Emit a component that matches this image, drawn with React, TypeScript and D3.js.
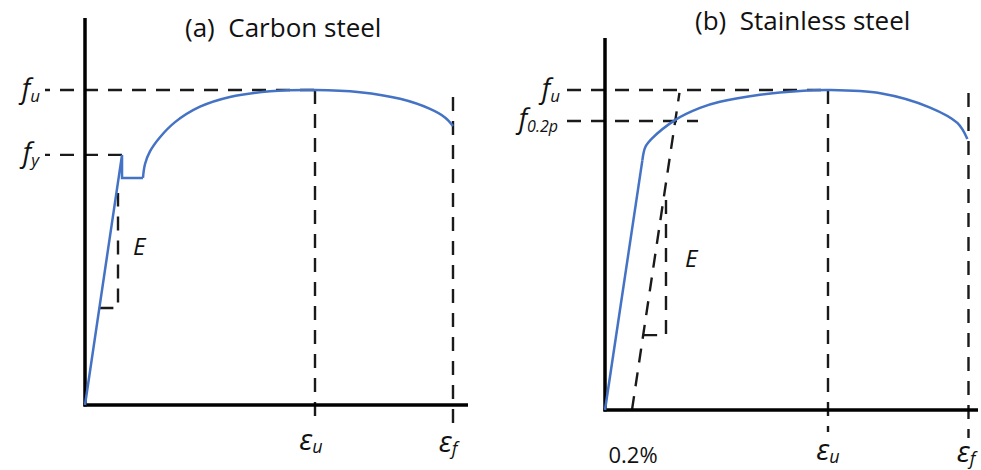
import React from "react";
import * as d3 from "d3";

// Schematic stress–strain data (strain, stress) – normalised so that εu = 0.2 and fu = 1
const carbonElastic: [number, number][] = [
  [0, 0],
  [0.0322, 0.794],
  [0.0322, 0.721],
  [0.0504, 0.721],
];
const carbonHardening: [number, number][] = [
  [0.0504, 0.721],
  [0.0522, 0.765],
  [0.0565, 0.805],
  [0.0652, 0.85],
  [0.0783, 0.898],
  [0.1, 0.947],
  [0.126, 0.978],
  [0.161, 0.996],
  [0.2, 1.0],
  [0.239, 0.993],
  [0.274, 0.972],
  [0.3, 0.94],
  [0.313, 0.913],
  [0.32, 0.886],
];
const carbonKeyStress = { fu: 1.0, fy: 0.794 };
const carbonKeyStrain = { eu: 0.2, ef: 0.32 };
const carbonSlopeTriangle: [number, number][] = [
  [0.0125, 0.308],
  [0.0287, 0.308],
  [0.0287, 0.673],
];

const stainlessElastic: [number, number][] = [
  [0, 0],
  [0.0335, 0.78],
];
const stainlessPlastic: [number, number][] = [
  [0.0335, 0.78],
  [0.0362, 0.822],
  [0.042, 0.848],
  [0.0628, 0.906],
  [0.0852, 0.944],
  [0.1031, 0.963],
  [0.139, 0.985],
  [0.175, 0.997],
  [0.2, 1.0],
  [0.247, 0.99],
  [0.291, 0.946],
  [0.316, 0.897],
  [0.325, 0.847],
];
const stainlessKeyStress = { fu: 1.0, f02p: 0.903 };
const stainlessKeyStrain = { eu: 0.2, ef: 0.326 };
const offsetStrain = 0.0242; // proof-strain offset (schematic)
const offsetLineTopStress = 0.991;
const stainlessSlopeTriangle: [number, number][] = [
  [0.0342, 0.234],
  [0.0547, 0.234],
  [0.0547, 0.672],
];

const titles = ["(a)  Carbon steel", "(b)  Stainless steel"];

const BLUE = "#4472C4";
const DASH_COLOR = "#1a1a1a";
const FONT = "'Open Sans', 'DejaVu Sans', sans-serif";
const DASH = "14,10";

const lineGen = (x: d3.ScaleLinear<number, number>, y: d3.ScaleLinear<number, number>, curve: d3.CurveFactory) =>
  d3
    .line<[number, number]>()
    .x((d) => x(d[0]))
    .y((d) => y(d[1]))
    .curve(curve);

function FLabel({ x, y, sub, subSize = 17 }: { x: number; y: number; sub: string; subSize?: number }) {
  return (
    <text x={x} y={y} textAnchor="end" fontFamily={FONT} fontStyle="italic" fontSize={27} fill="#111">
      f
      <tspan fontSize={subSize} dy={4}>
        {sub}
      </tspan>
    </text>
  );
}

function EpsLabel({ x, y, sub }: { x: number; y: number; sub: string }) {
  return (
    <text x={x} y={y} textAnchor="middle" fontFamily={FONT} fontStyle="italic" fontSize={29} fill="#111">
      ε
      <tspan fontSize={18} dy={3}>
        {sub}
      </tspan>
    </text>
  );
}

export default function App() {
  // Carbon steel panel scales
  const xA = d3.scaleLinear().domain([0, 0.2]).range([85, 315]);
  const yA = d3.scaleLinear().domain([0, 1]).range([405, 90]);
  // Stainless steel panel scales
  const xB = d3.scaleLinear().domain([0, 0.2]).range([605, 828]);
  const yB = d3.scaleLinear().domain([0, 1]).range([410, 90]);

  const smooth = d3.curveCatmullRom.alpha(0.5);
  const linA = lineGen(xA, yA, d3.curveLinear);
  const curA = lineGen(xA, yA, smooth);
  const linB = lineGen(xB, yB, d3.curveLinear);
  const curB = lineGen(xB, yB, smooth);

  const elasticSlopeB = stainlessElastic[1][1] / stainlessElastic[1][0];
  const offsetLine: [number, number][] = [
    [offsetStrain, 0],
    [offsetStrain + offsetLineTopStress / elasticSlopeB, offsetLineTopStress],
  ];

  const dashProps = {
    stroke: DASH_COLOR,
    strokeWidth: 2.4,
    strokeDasharray: DASH,
    fill: "none",
  };

  return (
    <svg width={981} height={470} style={{ display: "block", position: "absolute", left: 0, top: 0 }}>
      <rect width={981} height={470} fill="#fff" />

      {/* ---------- (a) Carbon steel ---------- */}
      <text x={185} y={37} fontFamily={FONT} fontSize={26} fill="#111" style={{ whiteSpace: "pre" }}>
        {titles[0]}
      </text>

      {/* reference dashed lines */}
      <line x1={45} x2={xA(carbonKeyStrain.eu)} y1={yA(carbonKeyStress.fu)} y2={yA(carbonKeyStress.fu)} {...dashProps} strokeDashoffset={9} />
      <line x1={45} x2={xA(carbonElastic[1][0])} y1={yA(carbonKeyStress.fy)} y2={yA(carbonKeyStress.fy)} {...dashProps} strokeDashoffset={9} />
      <line x1={xA(carbonKeyStrain.eu)} x2={xA(carbonKeyStrain.eu)} y1={yA(carbonKeyStress.fu)} y2={yA(0) + 15} {...dashProps} />
      <line x1={xA(carbonKeyStrain.ef)} x2={xA(carbonKeyStrain.ef)} y1={97} y2={yA(0) + 23} {...dashProps} />
      <path d={linA(carbonSlopeTriangle) ?? ""} {...dashProps} />

      {/* axes */}
      <line x1={xA(0)} x2={xA(0)} y1={18} y2={yA(0) + 1.5} stroke="#000" strokeWidth={3.5} />
      <line x1={xA(0) - 1.5} x2={468} y1={yA(0)} y2={yA(0)} stroke="#000" strokeWidth={3.5} />

      {/* stress–strain curve */}
      <path d={linA(carbonElastic) ?? ""} stroke={BLUE} strokeWidth={2.5} fill="none" strokeLinejoin="miter" />
      <path d={curA(carbonHardening) ?? ""} stroke={BLUE} strokeWidth={2.5} fill="none" />

      <text x={133} y={255} fontFamily={FONT} fontStyle="italic" fontSize={24} fill="#111">
        E
      </text>
      <FLabel x={40} y={98} sub="u" />
      <FLabel x={39} y={162} sub="y" />
      <EpsLabel x={311} y={450} sub="u" />
      <EpsLabel x={448} y={452} sub="f" />

      {/* ---------- (b) Stainless steel ---------- */}
      <text x={695} y={30} fontFamily={FONT} fontSize={26} fill="#111" style={{ whiteSpace: "pre" }}>
        {titles[1]}
      </text>

      <line x1={567} x2={xB(stainlessKeyStrain.eu)} y1={yB(stainlessKeyStress.fu)} y2={yB(stainlessKeyStress.fu)} {...dashProps} />
      <line x1={567} x2={698} y1={yB(stainlessKeyStress.f02p)} y2={yB(stainlessKeyStress.f02p)} {...dashProps} />
      <line x1={xB(stainlessKeyStrain.eu)} x2={xB(stainlessKeyStrain.eu)} y1={yB(stainlessKeyStress.fu)} y2={yB(0) + 22} {...dashProps} />
      <line x1={xB(stainlessKeyStrain.ef)} x2={xB(stainlessKeyStrain.ef)} y1={93} y2={yB(0) + 28} {...dashProps} />
      <path d={linB(offsetLine) ?? ""} {...dashProps} />
      <path d={linB(stainlessSlopeTriangle) ?? ""} {...dashProps} />

      <line x1={xB(0)} x2={xB(0)} y1={38} y2={yB(0) + 1.5} stroke="#000" strokeWidth={3.5} />
      <line x1={xB(0) - 1.5} x2={978} y1={yB(0)} y2={yB(0)} stroke="#000" strokeWidth={3.5} />

      <path d={linB(stainlessElastic) ?? ""} stroke={BLUE} strokeWidth={2.5} fill="none" />
      <path d={curB(stainlessPlastic) ?? ""} stroke={BLUE} strokeWidth={2.5} fill="none" />

      <text x={685} y={267} fontFamily={FONT} fontStyle="italic" fontSize={24} fill="#111">
        E
      </text>
      <FLabel x={560} y={98} sub="u" />
      <FLabel x={558} y={128} sub="0.2p" subSize={16} />
      <EpsLabel x={828} y={460} sub="u" />
      <EpsLabel x={966} y={462} sub="f" />
      <text x={633} y={463} textAnchor="middle" fontFamily={FONT} fontSize={22} fill="#111">
        0.2%
      </text>
    </svg>
  );
}
